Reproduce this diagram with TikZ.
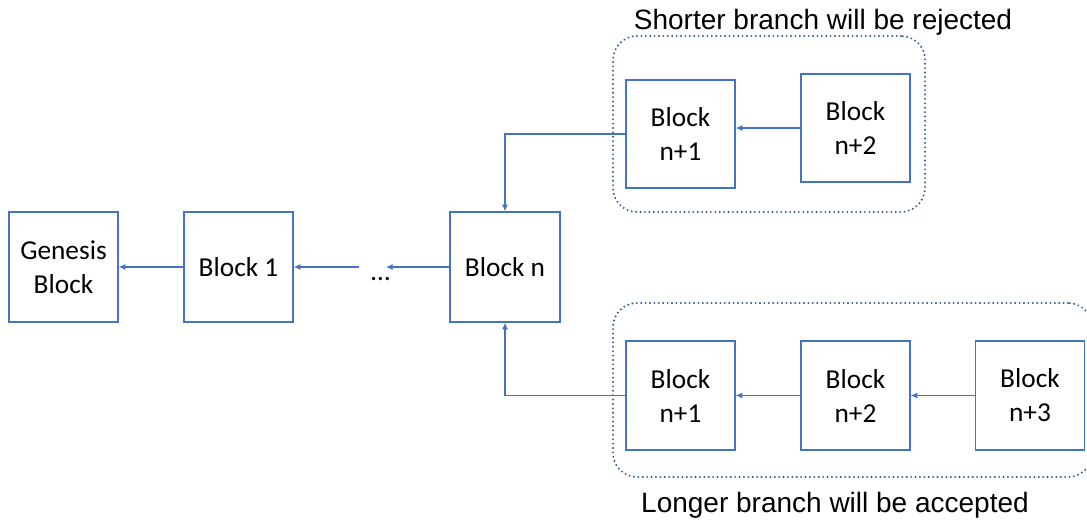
\documentclass[tikz,border=0pt]{standalone}
\usepackage{fontspec}
\setmainfont{Carlito}
\newfontfamily\capfont{Liberation Sans}
\usetikzlibrary{arrows.meta,calc}
\definecolor{boxblue}{RGB}{68,114,196}
\definecolor{dotblue}{RGB}{47,85,151}
\tikzset{
  blk/.style={draw=boxblue, line width=1pt, minimum width=81.75pt, align=center, inner sep=0pt, font=\fontsize{20.5}{25.5}\selectfont, text=black},
  arr/.style={draw=boxblue, line width=0.8pt, -{Latex[length=5pt,width=4.5pt]}},
  grp/.style={draw=dotblue, line width=1.6pt, dash pattern=on 0pt off 3.3pt, line cap=round, rounded corners=18pt},
  captext/.style={font=\capfont\fontsize{21}{25}\selectfont, text=black}
}
\begin{document}
\begin{tikzpicture}[x=0.75pt,y=-0.75pt]
\useasboundingbox (0,0) rectangle (1087,522);
% groups
\node[grp, minimum width=234pt, minimum height=132pt] (gup) at (769,124) {};
\node[grp, minimum width=359.25pt, minimum height=130.5pt] (glo) at (852.5,390) {};
% blocks
\node[blk, minimum height=82.5pt] (gen) at (63.5,267) {Genesis\\Block};
\node[blk, minimum height=82.5pt] (b1) at (238.5,267) {Block 1};
\node[font=\fontsize{20.5}{25.5}\selectfont, inner sep=0pt] (dots) at (380.5,279) {…};
\node[blk, minimum width=82.5pt, minimum height=82.5pt] (bn) at (505,267) {Block n};
\node[blk, minimum height=81pt] (u1) at (680.5,134) {Block\\n+1};
\node[blk, minimum height=81pt] (u2) at (855.5,128) {Block\\n+2};
\node[blk, minimum height=81.75pt] (l1) at (680.5,395.5) {Block\\n+1};
\node[blk, minimum height=81.75pt] (l2) at (855.5,395.5) {Block\\n+2};
\node[blk, minimum height=81.75pt] (l3) at (1030,395.5) {Block\\n+3};
% captions
\node[captext] (tcap) at (823,22) {Shorter branch will be rejected};
\node[captext] (bcap) at (835,505) {Longer branch will be accepted};
% connectors
\draw[arr] (b1.west) -- (gen.east);
\draw[arr] ([xshift=-16.1pt]dots.center |- b1.east) -- (b1.east);
\draw[arr] (bn.west) -- ([xshift=4.1pt]dots.center |- bn.west);
\draw[arr] (u1.west) -| (bn.north);
\draw[arr] (u2.west) -- (u2.west -| u1.east);
\draw[arr] (l1.west) -| (bn.south);
\draw[arr] (l2.west) -- (l1.east);
\draw[arr] (l3.west) -- (l2.east);
\end{tikzpicture}
\end{document}
